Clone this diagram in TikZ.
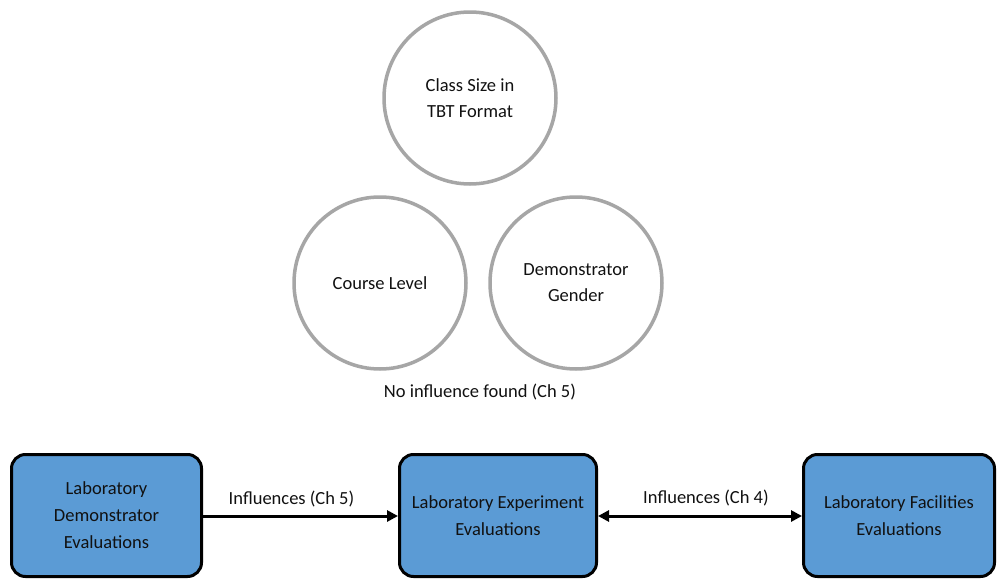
\documentclass[tikz,border=0pt]{standalone}
\usepackage{fontspec}
\setmainfont{Carlito}
\usetikzlibrary{arrows.meta}
\definecolor{boxblue}{HTML}{5B9BD5}
\definecolor{ringgray}{HTML}{A6A6A6}
\definecolor{inkdark}{HTML}{111111}
\begin{document}
\begin{tikzpicture}[x=1pt,y=-1pt,
  every node/.style={font=\fontsize{18.5}{26}\selectfont, text=inkdark},
  factor/.style={circle, draw=ringgray, line width=3.5pt, minimum size=172pt,
    align=center, inner sep=0pt},
  evalbox/.style={draw=black, fill=boxblue, line width=3pt, rounded corners=14pt,
    minimum height=122pt, align=center, inner sep=0pt,
    font=\fontsize{18.5}{27}\selectfont},
  link/.style={line width=3pt, black},
  >={Triangle[length=11pt,width=11pt]}]
  \useasboundingbox (0,0) rectangle (997,581);
  \fill[white] (0,0) rectangle (997,581);

  % factors with no influence
  \node[factor] (size) at (470,98) {Class Size in\\TBT Format};
  \node[factor] (level) at (380,283) {Course Level};
  \node[factor] (gender) at (576,283) {Demonstrator\\Gender};
  \node (none) at (480,392) {No influence found (Ch 5)};

  % evaluation boxes
  \node[evalbox, minimum width=190pt] (demo) at (106.5,515.5) {Laboratory\\Demonstrator\\Evaluations};
  \node[evalbox, minimum width=197pt] (expt) at (498,515.5) {Laboratory Experiment\\Evaluations};
  \node[evalbox, minimum width=191pt] (fac) at (899,515.5) {Laboratory Facilities\\Evaluations};

  % influence links
  \draw[link, ->] (demo.east |- 0,516) -- node[above=4pt, xshift=-9pt] {Influences (Ch 5)} (expt.west |- 0,516);
  \draw[link, <->] (expt.east |- 0,516) -- node[above=5pt, xshift=6pt] {Influences (Ch 4)} (fac.west |- 0,516);
\end{tikzpicture}
\end{document}
